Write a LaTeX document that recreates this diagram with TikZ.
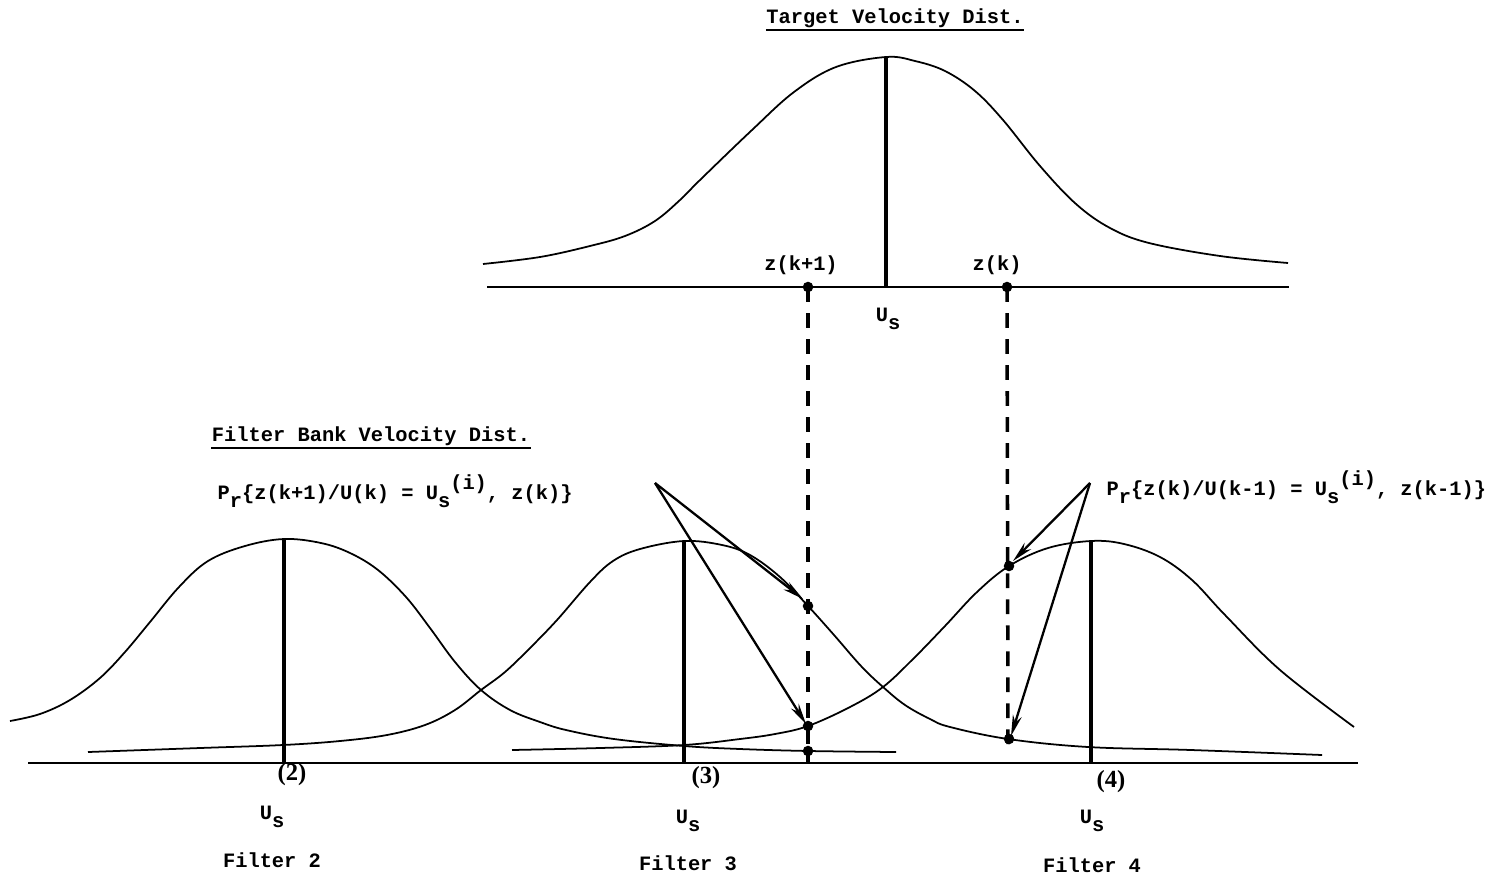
\documentclass[tikz,border=0pt]{standalone}
\usepackage{fontspec}
\newfontfamily\tw{Liberation Mono}
\newfontfamily\tser{Liberation Serif}
\usetikzlibrary{arrows.meta}
\newcommand\lowr[1]{\raisebox{-0.75ex}{#1}}
\newcommand\highr[1]{\raisebox{0.9ex}{#1}}
\tikzset{
  curve/.style={line width=0.5pt, line join=round},
  axis/.style={line width=0.7pt},
  stem/.style={line width=1.05pt},
  dashline/.style={line width=1pt, dash pattern=on 4.2pt off 3.2pt},
  arr/.style={line width=0.65pt, -{Stealth[length=6pt,width=2.6pt]}},
  txt/.style={font=\tw\bfseries\fontsize{5.8}{7}\selectfont, inner sep=0pt},
  num/.style={font=\tser\bfseries\fontsize{7}{8}\selectfont, inner sep=0pt},
  uline/.style={line width=0.6pt},
  dotm/.style={fill=black}
}
\begin{document}
\begin{tikzpicture}[x=0.01cm,y=-0.01cm]
\useasboundingbox (0,0) rectangle (1489,879);

% ---------------- Target distribution ----------------
\coordinate (tl) at (487,287);
\coordinate (tr) at (1289,287);
\coordinate (tpk) at (886,57);
\coordinate (tbase) at (886,287);
\draw[curve] plot[smooth, tension=0.6] coordinates {
 (483,264) (540,257) (590,246) (625,236) (655,221) (680,200) (700,180)
 (752,130) (794,92) (836,67) (886,57) (915,61) (945,71) (975,91)
 (1003,120) (1040,166) (1076,204) (1110,228) (1149,243) (1220,256)
 (1288,263)};
\draw[axis] (tl) -- (tr);
\draw[stem] (tpk) -- (tbase);

\node[txt] (ttitle) at (895,18) {Target Velocity Dist.};
\draw[uline] ([yshift=-0.6pt]ttitle.south west) -- ([yshift=-0.6pt]ttitle.south east);

\node[txt] (lzk1) at (801,265) {z(k+1)};
\node[txt] (lzk) at (997,265) {z(k)};
\node[txt] (lus) at (888,319) {U\lowr{s}};

\coordinate (zk1) at (808,287);
\coordinate (zk) at (1007,287);

% ---------------- Filter bank ----------------
\coordinate (bl) at (28,763);
\coordinate (br) at (1358,763);
\draw[axis] (bl) -- (br);

% filter 2
\draw[curve] plot[smooth, tension=0.6] coordinates {
 (10,721) (40,714) (70,700) (100,678) (125,652) (150,622) (179,587)
 (208,561) (245,546) (284,539) (321,543) (350,553) (378,570) (406,597)
 (430,628) (455,662) (481,690) (510,710) (540,722) (566,730) (614,739)
 (684,746) (740,749) (809,751) (896,752)};
% filter 3
\draw[curve] plot[smooth, tension=0.6] coordinates {
 (88,752) (200,748) (283,745) (340,741) (387,735) (425,725) (455,710)
 (481,690) (505,672) (530,648) (557,620) (590,582) (613,561) (640,549)
 (684,541) (722,545) (750,555) (780,577) (808,606) (834,635) (861,666)
 (883,687) (905,705) (930,719) (950,727) (1008,739) (1088,747)
 (1191,750) (1322,755)};
% filter 4
\draw[curve] plot[smooth, tension=0.6] coordinates {
 (512,750) (600,748) (684,745) (740,739) (775,734) (808,726) (850,707)
 (883,687) (914,658) (945,626) (977,592) (1009,566) (1048,548)
 (1091,541) (1124,544) (1160,557) (1192,580) (1225,615) (1280,670)
 (1354,727)};

\coordinate (p2t) at (284,539); \coordinate (p2b) at (284,763);
\coordinate (p3t) at (684,541); \coordinate (p3b) at (684,763);
\coordinate (p4t) at (1091,541); \coordinate (p4b) at (1091,763);
\draw[stem] (p2t) -- (p2b);
\draw[stem] (p3t) -- (p3b);
\draw[stem] (p4t) -- (p4b);

% points on the curves
\coordinate (a3) at (808,606);
\coordinate (a4) at (808,726);
\coordinate (a2) at (808,751);
\coordinate (a2b) at (808,763);
\coordinate (b4) at (1009,566);
\coordinate (b3) at (1009,739);
\coordinate (b3e) at (1008,750);
\coordinate (a2e) at (808,745);

\draw[dashline] (zk1) -- (a2e);
\draw[dashline] (zk) -- (b3e);
\draw[stem] (a2) -- (a2b);

\foreach \p in {zk1,zk,a3,a4,a2,b4,b3}
  \fill[dotm] (\p) circle (1.5pt);

% arrows
\coordinate (srcl) at (655,483);
\coordinate (srcr) at (1090,483);
\coordinate (a3t) at (803,599);
\coordinate (a4t) at (806,724);
\coordinate (b4t) at (1013,561);
\coordinate (b3t) at (1011,736);
\draw[arr] (srcl) -- (a3t);
\draw[arr] (srcl) -- (a4t);
\draw[arr] (srcr) -- (b4t);
\draw[arr] (srcr) -- (b3t);

% texts
\node[txt] (fbtitle) at (371,436) {Filter Bank Velocity Dist.};
\draw[uline] ([yshift=-0.6pt]fbtitle.south west) -- ([yshift=-0.6pt]fbtitle.south east);

\node[txt, anchor=west] (forml) at (217,491)
  {P\lowr{r}\{z(k+1)/U(k) = U\lowr{s}\highr{(i)}, z(k)\}};
\node[txt, anchor=west] (formr) at (1106,487)
  {P\lowr{r}\{z(k)/U(k-1) = U\lowr{s}\highr{(i)}, z(k-1)\}};

\node[num] (n2) at (292,775) {(2)};
\node[num] (n3) at (706,778) {(3)};
\node[num] (n4) at (1111,782) {(4)};

\node[txt] (u2) at (272,817) {U\lowr{s}};
\node[txt] (u3) at (688,821) {U\lowr{s}};
\node[txt] (u4) at (1092,821) {U\lowr{s}};

\node[txt] (f2) at (272,860) {Filter 2};
\node[txt] (f3) at (688,863) {Filter 3};
\node[txt] (f4) at (1092,865) {Filter 4};
\end{tikzpicture}
\end{document}
